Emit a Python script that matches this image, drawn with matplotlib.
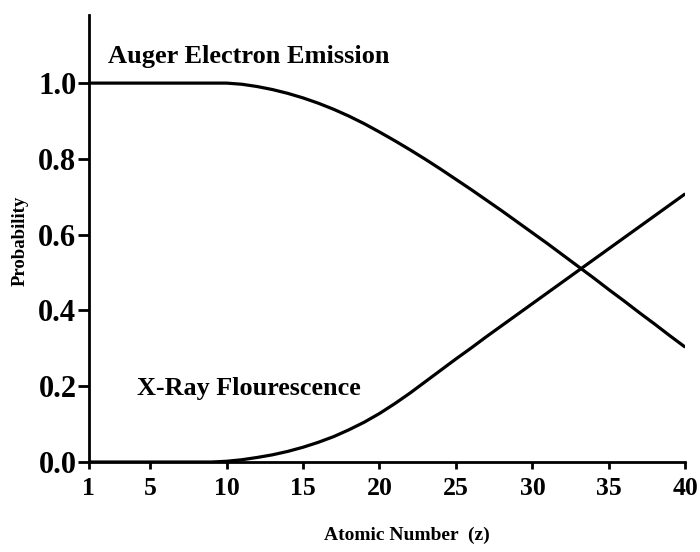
import matplotlib
matplotlib.use("Agg")
import matplotlib.pyplot as plt

# atomic number sample points
z = [1, 5, 9, 10, 11, 12, 13, 14, 15, 16, 17, 18, 19, 20, 21, 22, 23, 24,
     25, 26, 27, 28, 29, 30, 31, 32, 33, 34, 35, 36, 37, 38, 39, 40]

auger = [1.0, 1.0, 1.0, 1.0, 0.997, 0.991, 0.983, 0.973, 0.961, 0.947, 0.931,
         0.913, 0.893, 0.871, 0.848, 0.824, 0.799, 0.773, 0.746, 0.719, 0.691,
         0.663, 0.634, 0.605, 0.576, 0.546, 0.516, 0.486, 0.455, 0.425, 0.394,
         0.364, 0.333, 0.303]

xray = [0.0, 0.0, 0.0, 0.002, 0.006, 0.012, 0.019, 0.028, 0.039, 0.052, 0.067,
        0.085, 0.105, 0.128, 0.154, 0.182, 0.212, 0.242, 0.272, 0.301, 0.331,
        0.360, 0.389, 0.418, 0.447, 0.476, 0.505, 0.534, 0.563, 0.592, 0.621,
        0.650, 0.679, 0.708]

xticks = [1, 5, 10, 15, 20, 25, 30, 35, 40]
yticks = [0.0, 0.2, 0.4, 0.6, 0.8, 1.0]

plt.rcParams['font.family'] = ['Liberation Serif', 'DejaVu Serif']
plt.rcParams['font.weight'] = 'bold'

fig = plt.figure(figsize=(7, 5.52), dpi=100)
ax = fig.add_axes([0.127, 0.163, 0.852, 0.81])

ax.plot(z, auger, color="black", lw=2.3, solid_capstyle="butt")
ax.plot(z, xray, color="black", lw=2.3, solid_capstyle="butt")

ax.set_xlim(1, 40)
ax.set_ylim(0, 1.18)
ax.set_xticks(xticks)
ax.set_yticks(yticks)
ax.set_yticklabels([f"{v:.1f}" for v in yticks], fontsize=22, fontweight="bold")
ax.set_xticklabels([str(v) for v in xticks], fontsize=18.5, fontweight="bold")

for side in ("top", "right"):
    ax.spines[side].set_visible(False)
for side in ("left", "bottom"):
    ax.spines[side].set_linewidth(2.0)
ax.tick_params(axis="y", length=8, width=2, pad=1)
ax.tick_params(axis="x", length=5, width=2, pad=6)

# curve labels
ax.text(2.25, 1.07, "Auger Electron Emission", fontsize=19, fontweight="bold",
        va="center", ha="left")
ax.text(4.15, 0.195, "X-Ray Flourescence", fontsize=18.8, fontweight="bold",
        va="center", ha="left")

fig.text(0.029, 0.563, "Probability", rotation=90, fontsize=13.5,
         fontweight="bold", ha="center", va="center")
fig.text(0.581, 0.031, "Atomic Number  (z)", fontsize=14,
         fontweight="bold", ha="center", va="center")

fig.savefig("out.png", dpi=100)
